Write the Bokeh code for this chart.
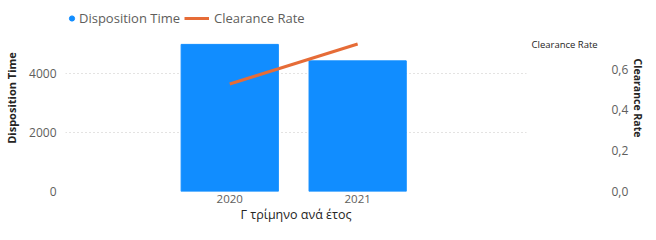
from bokeh.plotting import figure
from bokeh.models import (Range1d, LinearAxis, FixedTicker, CustomJSTickFormatter,
                          Legend, LegendItem, ColumnDataSource)
from bokeh.embed import file_html
from bokeh.resources import INLINE

years = [2020, 2021]
disposition_time = [5000, 4440]
clearance_rate = [0.527, 0.723]
left_ticks = [0, 2000, 4000]
right_ticks = [0.0, 0.2, 0.4, 0.6]
right_caption_at = [0.72]   # where the small "Clearance Rate" caption sits on the right scale

FONT = "Open Sans"
BLUE = "#118DFF"
ORANGE = "#E66C37"
TICK = "#605E5C"
DARK = "#252423"

p = figure(width=648, height=228, output_backend="svg", toolbar_location=None,
           x_range=Range1d(2018.716, 2022.32), y_range=Range1d(0, 6356),
           min_border_left=65, min_border_right=108, min_border_top=4, min_border_bottom=37)
p.extra_y_ranges = {"cr": Range1d(0, 0.9167)}
p.outline_line_color = None
p.border_fill_color = "white"

src = ColumnDataSource(dict(x=years, dt=disposition_time, cr=clearance_rate))
bars = p.vbar(x="x", top="dt", width=0.76, source=src, fill_color=BLUE, line_color=BLUE)
dots = p.scatter(x="x", y="dt", size=0, marker="circle", fill_color=BLUE, line_color=BLUE, source=src)
line = p.line(x="x", y="cr", y_range_name="cr", line_color=ORANGE, line_width=3, source=src)

def style_axis(ax, label_size):
    ax.axis_line_color = None
    ax.major_tick_line_color = None
    ax.minor_tick_line_color = None
    ax.major_tick_out = 0
    ax.major_tick_in = 0
    ax.minor_tick_out = 0
    ax.minor_tick_in = 0
    ax.major_label_text_font = FONT
    ax.major_label_text_font_size = label_size
    ax.major_label_text_color = TICK
    ax.axis_label_text_font = FONT
    ax.axis_label_text_color = DARK

# x axis
xa = p.xaxis[0]
style_axis(xa, "11.5px")
xa.ticker = FixedTicker(ticks=years)
xa.major_label_standoff = 3
xa.axis_label = "Γ τρίμηνο ανά έτος"
xa.axis_label_text_font_size = "12.5px"
xa.axis_label_text_font_style = "normal"
xa.axis_label_standoff = 0

# left axis
ya = p.yaxis[0]
style_axis(ya, "12px")
ya.ticker = FixedTicker(ticks=left_ticks)
ya.major_label_standoff = 9
ya.axis_label = "Disposition Time"
ya.axis_label_text_font_size = "11px"
ya.axis_label_text_font_style = "bold"
ya.axis_label_standoff = 7

p.xgrid.visible = False
p.ygrid.ticker = FixedTicker(ticks=left_ticks)
p.ygrid.grid_line_color = "#C8C6C4"
p.ygrid.grid_line_dash = "1 3"
p.ygrid.grid_line_width = 1

# small caption "Clearance Rate" beside the top of the right scale
rcap = LinearAxis(y_range_name="cr", ticker=FixedTicker(ticks=right_caption_at),
                  formatter=CustomJSTickFormatter(code="return 'Clearance Rate'"))
style_axis(rcap, "9.5px")
rcap.major_label_text_color = DARK
rcap.major_label_standoff = 5
p.add_layout(rcap, "right")

# right axis
ra = LinearAxis(y_range_name="cr", ticker=FixedTicker(ticks=right_ticks),
                formatter=CustomJSTickFormatter(code="return tick.toFixed(1).replace('.', ',')"))
style_axis(ra, "12px")
ra.major_label_standoff = 11
ra.axis_label = "Clearance Rate"
ra.axis_label_text_font_size = "10.5px"
ra.axis_label_text_font_style = "bold"
ra.axis_label_standoff = 0
p.add_layout(ra, "right")

leg1 = Legend(items=[LegendItem(label="Disposition Time", renderers=[dots])],
              location=(0, 163), orientation="horizontal", padding=0, margin=0,
              glyph_width=13, glyph_height=20, label_standoff=1,
              label_text_font=FONT, label_text_font_size="13px", label_text_color=TICK,
              border_line_color=None, background_fill_alpha=0)
leg2 = Legend(items=[LegendItem(label="Clearance Rate", renderers=[line])],
              location=(119, 163), orientation="horizontal", padding=0, margin=0,
              glyph_width=25, glyph_height=20, label_standoff=5,
              label_text_font=FONT, label_text_font_size="13px", label_text_color=TICK,
              border_line_color=None, background_fill_alpha=0)
p.add_layout(leg1, "center")
p.add_layout(leg2, "center")

open("out.html", "w").write(file_html(p, INLINE))
